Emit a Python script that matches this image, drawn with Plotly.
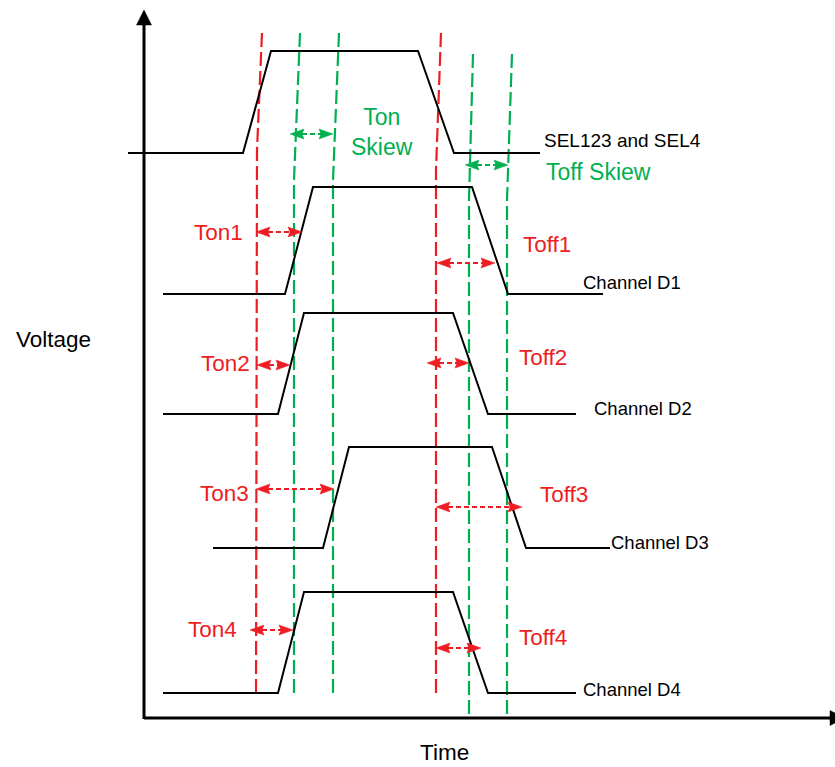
import plotly.graph_objects as go

# ---------------- data (time units / voltage units, origin at axis crossing) -------------
# waveform break points: time, and levels
sel_t = [-17, 98, 126, 273, 309, 395]
sel_v = [565, 565, 667, 667, 565, 565]

d1_t = [18, 140, 168, 327, 363, 458]
d1_v = [424, 424, 531, 531, 424, 424]

d2_t = [18, 133, 159, 308, 343, 431]
d2_v = [304, 304, 405, 405, 304, 304]

d3_t = [68, 178, 204, 347, 381, 465]
d3_v = [170, 170, 271, 271, 170, 170]

d4_t = [18, 133, 159, 308, 343, 431]
d4_v = [25, 25, 126, 126, 25, 25]

channel_names = ["Channel D1", "Channel D2", "Channel D3", "Channel D4"]

# reference (dashed) lines: time at top, kink, bottom; voltage top, kink, bottom
red_on_t = [117, 112, 111]
red_on_v = [685, 568, 25]
red_off_t = [296, 291, 291]
red_off_v = [685, 548, 25]
green_on_a_t = [155, 149, 149]
green_on_a_v = [685, 538, 25]
green_on_b_t = [194, 188, 188]
green_on_b_v = [685, 538, 25]
green_off_a_t = [328, 324, 324]
green_off_a_v = [664, 518, 3]
green_off_b_t = [367, 362, 362]
green_off_b_v = [664, 518, 3]

# measured intervals: label, level, start time, end time
ton_labels = ["Ton1", "Ton2", "Ton3", "Ton4"]
ton_level = [486, 353, 229, 88]
ton_start = [111, 112, 111, 105]
ton_end = [157, 145, 189, 148]

toff_labels = ["Toff1", "Toff2", "Toff3", "Toff4"]
toff_level = [455, 355, 211, 70]
toff_start = [292, 282, 291, 291]
toff_end = [350, 324, 377, 336]

skew_labels = ["Ton<br>Skiew", "Toff Skiew"]
skew_level = [584, 553]
skew_start = [145, 320]
skew_end = [188, 363]

# ---------------- styles ----------------
RED = "#EE1D23"
GREEN = "#00B050"
BLACK = "#000000"
FONT = "Liberation Sans, Arial, sans-serif"
HEAD_LEN = 14
HEAD_HALF = 5
NOTCH = 2

fig = go.Figure()


def add_line(t, v, color, width, dash="solid"):
    fig.add_trace(go.Scatter(x=t, y=v, mode="lines", hoverinfo="skip",
                             line=dict(color=color, width=width, dash=dash)))


def heads_h(level, t0, t1, L=HEAD_LEN, H=HEAD_HALF, N=NOTCH):
    # left-pointing head at t0, right-pointing head at t1
    xs = [t0, t0 + L, t0 + L - N, t0 + L, t0, None,
          t1, t1 - L, t1 - L + N, t1 - L, t1, None]
    ys = [level, level + H, level, level - H, level, None,
          level, level + H, level, level - H, level, None]
    return xs, ys


def add_arrows(levels, starts, ends, color):
    hx, hy = [], []
    for lv, a, b in zip(levels, starts, ends):
        add_line([a + HEAD_LEN - 2, b - HEAD_LEN + 2], [lv, lv], color, 1.8, "5px,3px")
        xs, ys = heads_h(lv, a, b)
        hx += xs
        hy += ys
    fig.add_trace(go.Scatter(x=hx, y=hy, mode="lines", fill="toself", fillcolor=color,
                             line=dict(color=color, width=0.5), hoverinfo="skip"))


# dashed reference lines
for t, v in [(red_on_t, red_on_v), (red_off_t, red_off_v)]:
    add_line(t, v, RED, 2.2, "14px,5px")
for t, v in [(green_on_a_t, green_on_a_v), (green_on_b_t, green_on_b_v),
             (green_off_a_t, green_off_a_v), (green_off_b_t, green_off_b_v)]:
    add_line(t, v, GREEN, 2.2, "14px,5px")

# waveforms
for t, v in [(sel_t, sel_v), (d1_t, d1_v), (d2_t, d2_v), (d3_t, d3_v), (d4_t, d4_v)]:
    add_line(t, v, BLACK, 2)

# interval arrows
add_arrows(ton_level, ton_start, ton_end, RED)
add_arrows(toff_level, toff_start, toff_end, RED)
add_arrows(skew_level, skew_start, skew_end, GREEN)

# axes with arrowheads
AX_TOP = 708
AX_RIGHT = 700
add_line([-1, -1], [-1, AX_TOP - 14], BLACK, 3)
add_line([-1, AX_RIGHT - 14], [0, 0], BLACK, 3)
fig.add_trace(go.Scatter(
    x=[-1, -8.5, 6.5, -1, None, AX_RIGHT, AX_RIGHT - 15, AX_RIGHT - 15, AX_RIGHT],
    y=[AX_TOP, AX_TOP - 15, AX_TOP - 15, AX_TOP, None, 0, 7.5, -7.5, 0],
    mode="lines", fill="toself", fillcolor=BLACK, line=dict(color=BLACK, width=0.5),
    hoverinfo="skip"))


def label(text, x, y, color, size, xanchor="left"):
    fig.add_annotation(x=x, y=y, text=text, showarrow=False, xanchor=xanchor,
                       yanchor="middle", align="center",
                       font=dict(family=FONT, size=size, color=color))


# labels
for txt, x, y in zip(ton_labels, [47, 54, 53, 41], [486, 355, 225, 89]):
    label(txt, x, y, RED, 22.5)
for txt, x, y in zip(toff_labels, [376, 372, 393, 372], [474, 361, 224, 81]):
    label(txt, x, y, RED, 22.5)
label(skew_labels[0], 237, 586, GREEN, 23, "center")
label(skew_labels[1], 399, 546, GREEN, 23)
label("SEL123 and SEL4", 397, 578, BLACK, 19)
for txt, x, y in zip(channel_names, [436, 447, 464, 436], [436, 310, 176, 29]):
    label(txt, x, y, BLACK, 18.5)
label("Voltage", -131, 379, BLACK, 22.5)
label("Time", 299, -34, BLACK, 22.5, "center")

fig.update_layout(
    width=835, height=767,
    margin=dict(l=0, r=0, t=0, b=0),
    showlegend=False,
    paper_bgcolor="white", plot_bgcolor="white",
    xaxis=dict(range=[-145, 690], visible=False, fixedrange=True),
    yaxis=dict(range=[-49, 718], visible=False, fixedrange=True),
)

fig.write_html("out.html", config={"displayModeBar": False},
               post_script="document.body.style.margin='0';document.body.style.overflow='hidden';")
